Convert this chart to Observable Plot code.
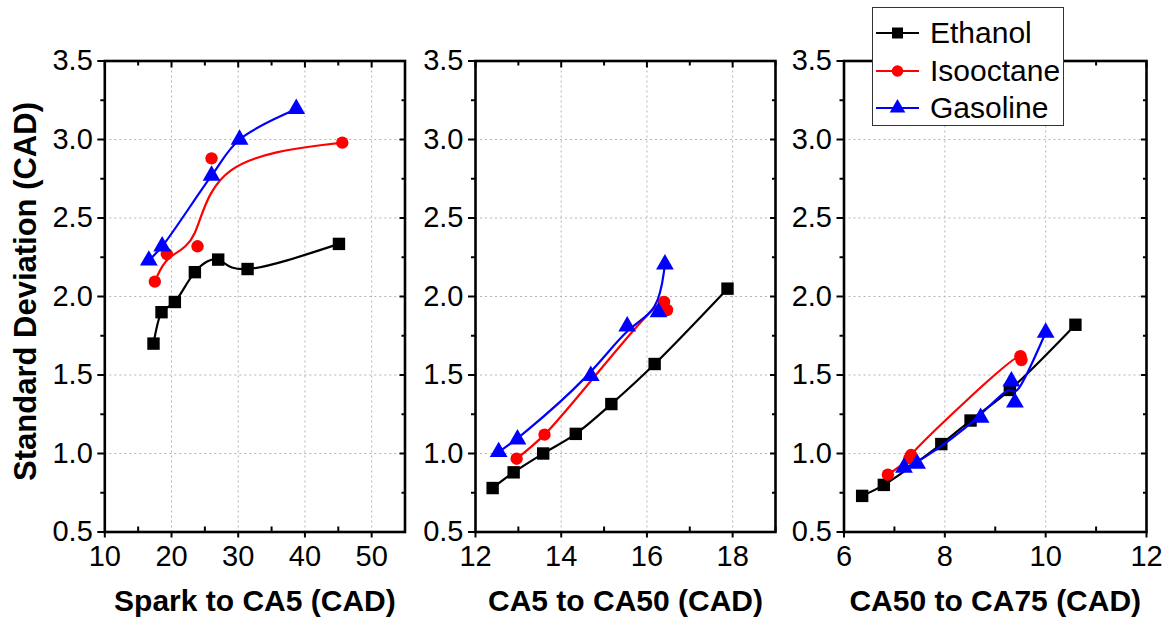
<!DOCTYPE html>
<html>
<head>
<meta charset="utf-8">
<script src="https://cdn.jsdelivr.net/npm/d3@7"></script>
<script src="https://cdn.jsdelivr.net/npm/@observablehq/plot@0.6"></script>
<style>
  html, body { margin: 0; padding: 0; background: white; }
  #chart { position: relative; width: 1169px; height: 621px; font-family: Arial, "Liberation Sans", sans-serif; }
  #chart svg { position: absolute; left: 0; top: 0; }
  #legend { position: absolute; left: 872px; top: 7px; width: 190px; height: 117px; border: 1.3px solid #333; background: white; }
  #legend .row { position: absolute; left: 0; height: 38px; display: flex; align-items: center; }
  #legend .row span { font-size: 30px; color: black; margin-left: 8px; }
</style>
</head>
<body>
<div id="chart"></div>
<script>
// ---------- data ----------
const seriesNames = ["Ethanol", "Isooctane", "Gasoline"];
const seriesColors = ["black", "red", "blue"];
const seriesSymbols = ["square", "circle", "triangle"];

const yLabel = "Standard Deviation (CAD)";
const yMajorTicks = [0.5, 1.0, 1.5, 2.0, 2.5, 3.0, 3.5];
const yMinorTicks = [0.75, 1.25, 1.75, 2.25, 2.75, 3.25];

// Panel 1: Spark to CA5
const p1Title = "Spark to CA5 (CAD)";
const p1Domain = [10, 55];
const p1MajorTicks = [10, 20, 30, 40, 50];
const p1MinorTicks = [15, 25, 35, 45, 55];
const ethanolSparkX = [17.3, 18.5, 20.5, 23.5, 27.0, 31.4, 45.1];
const ethanolSparkY = [1.70, 1.90, 1.965, 2.155, 2.235, 2.175, 2.335];
const isooctaneSparkX = [17.5, 19.3, 23.9, 26.0, 45.6];
const isooctaneSparkY = [2.095, 2.27, 2.32, 2.88, 2.98];
const gasolineSparkX = [16.6, 18.6, 26.0, 30.2, 38.7];
const gasolineSparkY = [2.23, 2.32, 2.77, 3.0, 3.195];

// Panel 2: CA5 to CA50
const p2Title = "CA5 to CA50 (CAD)";
const p2Domain = [12, 19];
const p2MajorTicks = [12, 14, 16, 18];
const p2MinorTicks = [13, 15, 17, 19];
const ethanolMidX = [12.40, 12.89, 13.58, 14.34, 15.17, 16.18, 17.88];
const ethanolMidY = [0.78, 0.88, 1.00, 1.125, 1.315, 1.57, 2.05];
const isooctaneMidX = [12.96, 13.61, 16.40, 16.47];
const isooctaneMidY = [0.967, 1.12, 1.965, 1.914];
const gasolineMidX = [12.54, 12.98, 14.69, 15.54, 16.27, 16.42];
const gasolineMidY = [1.01, 1.09, 1.495, 1.81, 1.90, 2.205];

// Panel 3: CA50 to CA75
const p3Title = "CA50 to CA75 (CAD)";
const p3Domain = [6, 12];
const p3MajorTicks = [6, 8, 10, 12];
const p3MinorTicks = [7, 9, 11];
const ethanolLateX = [6.36, 6.79, 7.93, 8.51, 9.29, 10.59];
const ethanolLateY = [0.73, 0.80, 1.06, 1.21, 1.405, 1.82];
const isooctaneLateX = [6.87, 7.30, 7.33, 9.50, 9.52];
const isooctaneLateY = [0.865, 0.97, 0.99, 1.62, 1.595];
const gasolineLateX = [7.19, 7.45, 8.71, 9.32, 9.39, 10.0];
const gasolineLateY = [0.91, 0.935, 1.228, 1.46, 1.325, 1.77];

// ---------- build ----------
const zip = (xs, ys) => xs.map((x, i) => ({x, y: ys[i]}));

const W = 1169, H = 621;
const plotTop = 60.5, plotBottom = 531.5;
const panels = [
  {left: 104.3, right: 404.5, title: p1Title, domain: p1Domain, major: p1MajorTicks, minor: p1MinorTicks, showYLabel: true,
   series: [zip(ethanolSparkX, ethanolSparkY), zip(isooctaneSparkX, isooctaneSparkY), zip(gasolineSparkX, gasolineSparkY)],
   curves: ["natural", "basis", "catmull-rom"]},
  {left: 475, right: 775, title: p2Title, domain: p2Domain, major: p2MajorTicks, minor: p2MinorTicks, showYLabel: false,
   series: [zip(ethanolMidX, ethanolMidY), zip(isooctaneMidX, isooctaneMidY), zip(gasolineMidX, gasolineMidY)],
   curves: ["catmull-rom", "catmull-rom", "basis"]},
  {left: 843.5, right: 1146, title: p3Title, domain: p3Domain, major: p3MajorTicks, minor: p3MinorTicks, showYLabel: false,
   series: [zip(ethanolLateX, ethanolLateY), zip(isooctaneLateX, isooctaneLateY), zip(gasolineLateX, gasolineLateY)],
   curves: ["catmull-rom", "catmull-rom", "basis"]}
];

const dotR = [7.0, 6.2, 6.6];
const gridStyle = {stroke: "#b4b4b4", strokeOpacity: 1, strokeWidth: 1, strokeDasharray: "2,3"};
const chart = document.getElementById("chart");

for (const p of panels) {
  const marks = [
    Plot.gridX(p.major, gridStyle),
    Plot.gridY(yMajorTicks, gridStyle),
    Plot.axisY(yMajorTicks, {anchor: "left", tickSize: 7, tickPadding: 5, strokeWidth: 2, fontSize: 29, tickFormat: d3.format(".1f"), label: null}),
    Plot.axisY(yMinorTicks, {anchor: "left", tickSize: 4, strokeWidth: 2, tickFormat: () => "", label: null}),
    Plot.axisY(yMajorTicks, {anchor: "right", tickSize: -6, strokeWidth: 2, tickFormat: () => "", label: null}),
    Plot.axisY(yMinorTicks, {anchor: "right", tickSize: -4, strokeWidth: 2, tickFormat: () => "", label: null}),
    Plot.axisX(p.major, {anchor: "bottom", tickSize: 6, tickPadding: 7, strokeWidth: 2, fontSize: 29, label: null}),
    Plot.axisX(p.minor, {anchor: "bottom", tickSize: -5, strokeWidth: 2, tickFormat: () => "", label: null}),
    Plot.axisX(p.major, {anchor: "top", tickSize: -6, strokeWidth: 2, tickFormat: () => "", label: null}),
    Plot.axisX(p.minor, {anchor: "top", tickSize: -4, strokeWidth: 2, tickFormat: () => "", label: null}),
    Plot.frame({stroke: "black", strokeWidth: 2.6}),
    Plot.text([p.title], {frameAnchor: "bottom", dy: 79, fontSize: 30, fontWeight: "bold", fill: "black"})
  ];
  if (p.showYLabel) {
    marks.push(Plot.text([yLabel], {frameAnchor: "left", dx: -79, dy: -5, rotate: -90, textAnchor: "middle", fontSize: 31, fontWeight: "bold", fill: "black"}));
  }
  p.series.forEach((data, i) => {
    marks.push(Plot.line(data, {x: "x", y: "y", stroke: seriesColors[i], strokeWidth: 2.2, curve: p.curves[i]}));
    marks.push(Plot.dot(data, {x: "x", y: "y", symbol: seriesSymbols[i], r: dotR[i], fill: seriesColors[i], stroke: "none"}));
  });
  const svg = Plot.plot({
    width: W, height: H,
    marginLeft: p.left, marginRight: W - p.right, marginTop: plotTop, marginBottom: H - plotBottom,
    style: {background: "transparent", fontFamily: "Arial, 'Liberation Sans', sans-serif", color: "black", overflow: "visible"},
    x: {domain: p.domain, axis: null},
    y: {domain: [0.5, 3.5], axis: null},
    marks
  });
  chart.appendChild(svg);
}

// ---------- legend ----------
const legend = document.createElement("div");
legend.id = "legend";
const symbolPaths = {
  square: d3.symbol(d3.symbolSquare, 121)(),
  circle: d3.symbol(d3.symbolCircle, Math.PI * 5.8 * 5.8)(),
  triangle: d3.symbol(d3.symbolTriangle, Math.PI * 5.8 * 5.8)()
};
seriesNames.forEach((name, i) => {
  const row = document.createElement("div");
  row.className = "row";
  row.style.top = (6 + i * 37.5) + "px";
  row.innerHTML = `<svg width="46" height="20" style="position:static;margin-left:3px"><line x1="0" x2="43" y1="10" y2="10" stroke="${seriesColors[i]}" stroke-width="2.2"/><path d="${symbolPaths[seriesSymbols[i]]}" transform="translate(21.5,10)" fill="${seriesColors[i]}"/></svg><span>${name}</span>`;
  legend.appendChild(row);
});
chart.appendChild(legend);
</script>
</body>
</html>
